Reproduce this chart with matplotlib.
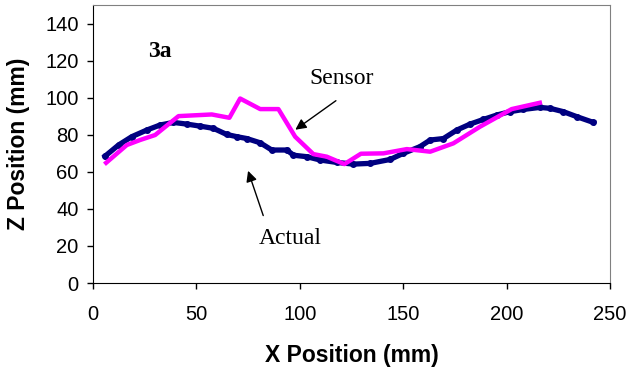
import matplotlib
matplotlib.use('Agg')
import matplotlib.pyplot as plt

# measured path (navy) and sensor reading (magenta)
actual_x = [5.8, 12.3, 18.7, 26, 32.4, 38.8, 45.3, 51.7, 58.2, 64.6, 69.5, 74.3,
            80.8, 86.4, 93.7, 96.9, 103.3, 109.8, 117.8, 125.9, 134, 143.6, 150,
            158, 163, 169.4, 175.9, 182.3, 188.7, 195.2, 201.6, 208, 216, 221,
            227.4, 233.9, 241.9]
actual_z = [68.5, 74.5, 79, 82.6, 85.3, 86.7, 85.8, 84.7, 83.5, 80.2, 79, 78,
            75.7, 71.8, 71.8, 69, 68.2, 66.4, 65.1, 64.2, 64.6, 66.7, 70,
            73.6, 77.2, 78, 82.6, 85.8, 88.3, 90.7, 92.5, 93.7, 94.8, 94.3,
            92.5, 89.8, 86.7]

sensor_x = [6.3, 16.3, 22.7, 30, 41.3, 57.4, 65.9, 71.1, 80.8, 89.6, 97.7,
            106.5, 113, 121.5, 129.5, 140.4, 151.7, 163, 174.2, 187.1, 202.4, 216]
sensor_z = [64.9, 74.5, 77.2, 79.9, 90.1, 91, 89.2, 99.6, 93.9, 93.9, 79,
            69.6, 68.2, 64.2, 69.8, 70, 72.3, 70.9, 75.4, 84.4, 93.9, 97.3]

x_ticks = [0, 50, 100, 150, 200, 250]
z_ticks = [0, 20, 40, 60, 80, 100, 120, 140]

fig = plt.figure(figsize=(6.29, 3.69), dpi=100)
ax = fig.add_axes([0.148, 0.233, 0.822, 0.753])

ax.plot(actual_x, actual_z, color='#000080', lw=3.8, marker='o', ms=4,
        zorder=2)
ax.plot(sensor_x, sensor_z, color='#FF00FF', lw=3.2, zorder=3)

ax.set_xlim(0, 250)
ax.set_ylim(0, 150)
ax.set_xticks(x_ticks)
ax.set_yticks(z_ticks)
ax.tick_params(direction='out', length=4.5, width=1, labelsize=14.5)
ax.tick_params(axis='x', pad=11)
ax.tick_params(axis='y', pad=6)
for lbl in ax.get_xticklabels() + ax.get_yticklabels():
    lbl.set_family('Liberation Sans')

for side in ('top', 'right'):
    ax.spines[side].set_color('#808080')
for side in ('left', 'bottom'):
    ax.spines[side].set_color('black')

ax.set_xlabel('X Position (mm)', family='Liberation Sans', weight='bold',
              fontsize=16.5, labelpad=15)
ax.set_ylabel('Z Position (mm)', family='Liberation Sans', weight='bold',
              fontsize=16.5, labelpad=11)

ax.text(32.4, 125, '3a', family='Liberation Serif', weight='bold',
        fontsize=17, ha='center', va='center')

ax.annotate('', xy=(96.7, 81.9), xytext=(118.5, 99.3),
            arrowprops=dict(arrowstyle='-|>', color='black', lw=1,
                            mutation_scale=16))
ax.text(120, 110.6, 'Sensor', family='Liberation Serif', fontsize=17,
        ha='center', va='center')

ax.annotate('', xy=(74.5, 62), xytext=(82.7, 35),
            arrowprops=dict(arrowstyle='-|>', color='black', lw=1,
                            mutation_scale=16))
ax.text(95.3, 24.3, 'Actual', family='Liberation Serif', fontsize=17,
        ha='center', va='center')

fig.savefig('out.png', dpi=100)
